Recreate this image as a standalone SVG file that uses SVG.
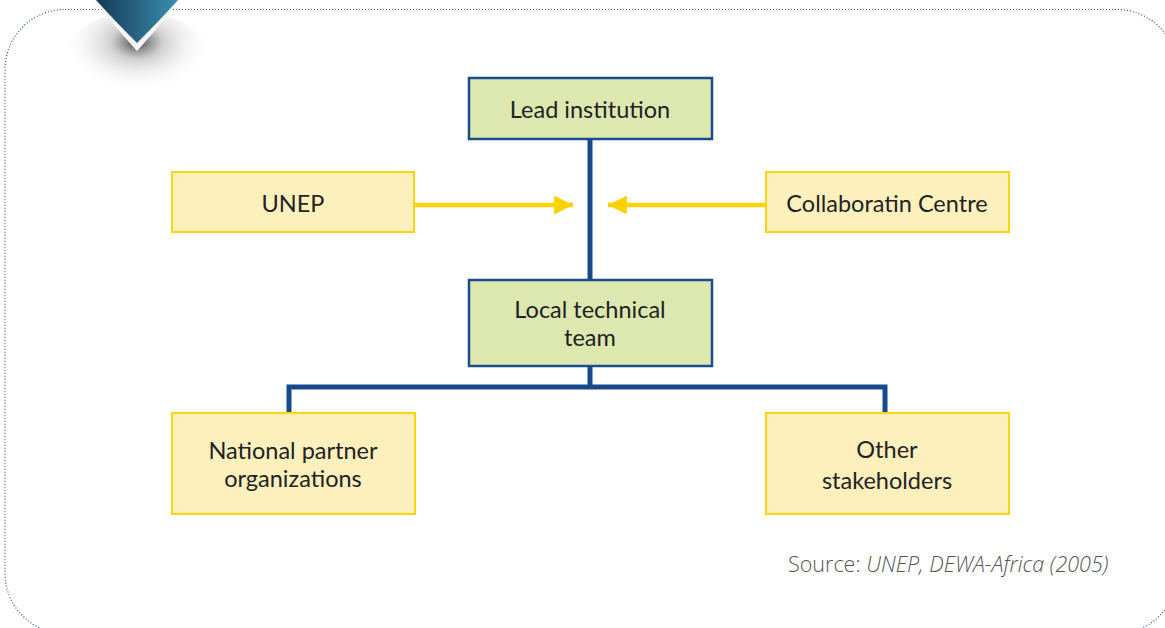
<svg xmlns="http://www.w3.org/2000/svg" width="1165" height="628" viewBox="0 0 1165 628">
<defs>
<linearGradient id="tabGrad" x1="0" y1="0" x2="1" y2="0">
<stop offset="0" stop-color="#163a55"/>
<stop offset="1" stop-color="#3a8fb0"/>
</linearGradient>
<radialGradient id="shadow" cx="0.5" cy="0.3" r="0.5">
<stop offset="0" stop-color="#000" stop-opacity="0.75"/>
<stop offset="0.35" stop-color="#666" stop-opacity="0.3"/>
<stop offset="1" stop-color="#fff" stop-opacity="0"/>
</radialGradient>
<marker id="arrowY" viewBox="0 0 10 10" refX="10" refY="5" markerWidth="4.2" markerHeight="4.2" orient="auto" markerUnits="strokeWidth">
<path d="M0,0 L10,5 L0,10 Z" fill="#fdd000"/>
</marker>
<style>
.green{fill:#dde8b0;stroke:#1b4d8d;stroke-width:2.5}
.yellow{fill:#fdf0bd;stroke:#fdd50a;stroke-width:2}
.lbl{font-family:Lato,"Open Sans",sans-serif;font-size:23.5px;fill:#222;text-anchor:middle}
.blue{fill:none;stroke:#174a8c;stroke-width:5}
.yarr{fill:none;stroke:#fdd000;stroke-width:4.5;marker-end:url(#arrowY)}
.src{font-family:"Open Sans",sans-serif;font-size:21.5px;fill:#555;font-weight:300}
</style>
</defs>
<rect x="0" y="0" width="1165" height="628" fill="#fff"/>
<rect id="frame" x="5" y="9.5" width="1172" height="624" rx="60" ry="60" fill="none" stroke="#2f559a" stroke-width="1.2" stroke-dasharray="1,2"/>
<g id="tab">
<ellipse cx="137" cy="62" rx="75" ry="50" fill="url(#shadow)"/>
<path d="M94,0 L180,0 Q165,20 137,51 Q109,20 94,0 Z" fill="#f4f4f4"/>
<path d="M96,0 L178,0 Q162,18 137,43 Q112,18 96,0 Z" fill="url(#tabGrad)"/>
</g>
<g id="connectors">
<path class="blue" d="M590,139 V280"/>
<path class="blue" d="M590,366 V387 M289,413 V387 H885 V413"/>
<path class="yarr" d="M415,205 H573"/>
<path class="yarr" d="M766,205 H608"/>
</g>
<g id="lead">
<rect class="green" x="469" y="78" width="243" height="61"/>
<text class="lbl" x="590" y="118">Lead institution</text>
</g>
<g id="unep">
<rect class="yellow" x="172" y="172" width="242" height="60"/>
<text class="lbl" x="293" y="212">UNEP</text>
</g>
<g id="collab">
<rect class="yellow" x="766" y="172" width="243" height="60"/>
<text class="lbl" x="887" y="212">Collaboratin Centre</text>
</g>
<g id="local">
<rect class="green" x="469" y="280" width="243" height="86"/>
<text class="lbl" x="590" y="318">Local technical</text>
<text class="lbl" x="590" y="346">team</text>
</g>
<g id="national">
<rect class="yellow" x="172" y="413" width="243" height="101"/>
<text class="lbl" x="293" y="459">National partner</text>
<text class="lbl" x="293" y="487">organizations</text>
</g>
<g id="other">
<rect class="yellow" x="766" y="413" width="243" height="101"/>
<text class="lbl" x="887" y="458">Other</text>
<text class="lbl" x="887" y="489">stakeholders</text>
</g>
<text class="src" x="788" y="572">Source: <tspan font-style="italic">UNEP, DEWA-Africa (2005)</tspan></text>
</svg>
